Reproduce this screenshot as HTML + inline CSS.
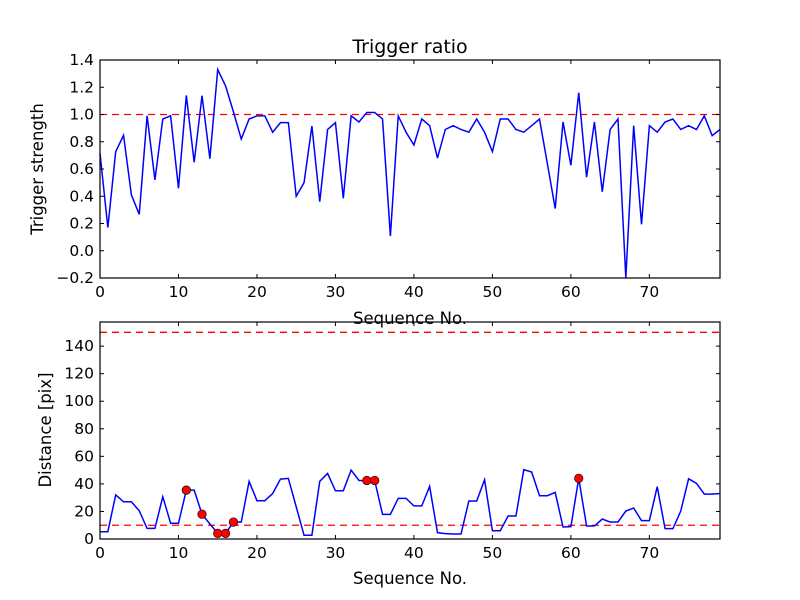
<!DOCTYPE html>
<html><head><meta charset="utf-8"><style>
body{margin:0;background:#fff}
svg{display:block;font-family:"DejaVu Sans","Liberation Sans",sans-serif}
</style></head><body>
<svg id="fig" width="800" height="600" xmlns="http://www.w3.org/2000/svg">
<rect width="800" height="600" fill="#fff"/>
<text x="410" y="53" font-size="19" text-anchor="middle">Trigger ratio</text>
<text x="410" y="324" font-size="16.5" text-anchor="middle">Sequence No.</text>
<text x="410" y="584" font-size="16.5" text-anchor="middle">Sequence No.</text>
<text transform="translate(43,169) rotate(-90)" font-size="16.5" text-anchor="middle">Trigger strength</text>
<text transform="translate(51,430) rotate(-90)" font-size="16.5" text-anchor="middle">Distance [pix]</text>
<g id="top"></g>
<g id="bot"></g>
</svg>
<script>
const ratioValues=[0.715,0.17,0.727,0.847,0.41,0.267,0.99,0.52,0.967,0.99,0.458,1.14,0.649,1.138,0.676,1.33,1.21,1.02,0.82,0.967,0.99,0.99,0.87,0.94,0.94,0.40,0.50,0.915,0.36,0.89,0.94,0.385,0.99,0.945,1.015,1.015,0.967,0.108,0.99,0.87,0.776,0.967,0.918,0.68,0.89,0.918,0.89,0.87,0.967,0.87,0.727,0.967,0.967,0.89,0.87,0.918,0.967,0.64,0.31,0.945,0.627,1.16,0.54,0.945,0.433,0.89,0.967,-0.2,0.918,0.194,0.918,0.87,0.945,0.967,0.89,0.918,0.89,0.99,0.845,0.89];
const distValues=[5.3,5.3,32,27,27,20.5,7.7,7.7,30.7,11.4,11.4,35.5,35.5,18,11,4.1,4.1,12.3,12.3,41.8,27.8,27.8,33,43.5,44,23.4,2.7,2.7,41.8,47.6,35,35,50,42.5,42.5,42.5,17.9,17.9,29.5,29.5,24,24,38.2,4.6,3.9,3.6,3.6,27.6,27.6,43,6,6,16.7,16.7,50.3,48.6,31.4,31.4,33.8,8.7,9,44,9.4,9.4,14.5,12.3,12.3,20.3,22.5,13.3,13.3,38,7.5,7.5,20.3,43.7,40.4,32.6,32.6,33];
const flaggedIdx=[11,13,15,16,17,34,35,61];
const xTicks=[0,10,20,30,40,50,60,70];
const topYTicks=[-0.2,0.0,0.2,0.4,0.6,0.8,1.0,1.2,1.4];
const botYTicks=[0,20,40,60,80,100,120,140];
const ratioThreshold=[1.0];
const distThresholds=[10,150];

const NS="http://www.w3.org/2000/svg";
function mk(p,t,a){const e=document.createElementNS(NS,t);for(const k in a)e.setAttribute(k,a[k]);p.appendChild(e);return e;}
const L=100,R=720;
const sx=v=>L+(v-0)*(R-L)/79;

function frame(g,T,B,sy,yt,fmt,name){
  const r=mk(g,'rect',{x:L,y:T,width:R-L,height:B-T,fill:'none',stroke:'#000','stroke-width':1.2});
  
  xTicks.forEach(v=>{
    const x=sx(v);
    const l1=mk(g,'line',{x1:x,x2:x,y1:B,y2:B-4,stroke:'#000'});
    
    mk(g,'line',{x1:x,x2:x,y1:T,y2:T+4,stroke:'#000'});
    const t=mk(g,'text',{x:x,y:B+19,'font-size':15.5,'text-anchor':'middle'});t.textContent=v;
    
  });
  yt.forEach(v=>{
    const y=sy(v);
    const l1=mk(g,'line',{x1:L,x2:L+4,y1:y,y2:y,stroke:'#000'});
    
    mk(g,'line',{x1:R,x2:R-4,y1:y,y2:y,stroke:'#000'});
    const t=mk(g,'text',{x:L-6,y:y+5,'font-size':15.5,'text-anchor':'end'});t.textContent=fmt(v);
    
  });
}
// top
const gT=document.getElementById('top');
const syT=v=>278-(v+0.2)*(278-60)/1.6;
ratioThreshold.forEach(v=>{const l=mk(gT,'line',{x1:L,x2:R,y1:syT(v),y2:syT(v),stroke:'#f00','stroke-width':1.3,'stroke-dasharray':'7,5'});
});
const pT=mk(gT,'polyline',{points:ratioValues.map((v,i)=>sx(i)+','+syT(v)).join(' '),fill:'none',stroke:'#00f','stroke-width':1.5});

frame(gT,60,278,syT,topYTicks,v=>(v<0?'\u2212':'')+Math.abs(v).toFixed(1),'top');
// bottom
const gB=document.getElementById('bot');
const syB=v=>539-v*(539-322)/157.5;
distThresholds.forEach(v=>{const l=mk(gB,'line',{x1:L,x2:R,y1:syB(v),y2:syB(v),stroke:'#f00','stroke-width':1.3,'stroke-dasharray':'7,5'});
});
const pB=mk(gB,'polyline',{points:distValues.map((v,i)=>sx(i)+','+syB(v)).join(' '),fill:'none',stroke:'#00f','stroke-width':1.5});

flaggedIdx.forEach(i=>{const c=mk(gB,'circle',{cx:sx(i),cy:syB(distValues[i]),r:4.3,fill:'#f00',stroke:'#000','stroke-width':0.6});
});
frame(gB,322,539,syB,botYTicks,v=>v,'bottom');
</script>
</body></html>
